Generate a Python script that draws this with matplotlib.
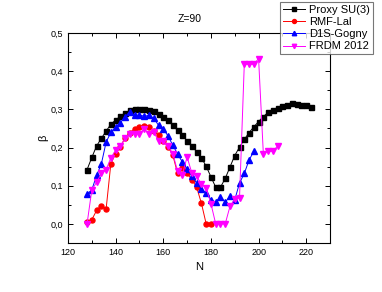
import matplotlib
matplotlib.use("Agg")
import matplotlib.pyplot as plt
from matplotlib.ticker import MultipleLocator, FuncFormatter

plt.rcParams['font.family'] = ['Liberation Sans', 'DejaVu Sans']

N_proxy = list(range(128, 223, 2))
beta_proxy = [0.142, 0.174, 0.204, 0.224, 0.243, 0.261, 0.272, 0.282, 0.291, 0.297,
              0.300, 0.302, 0.300, 0.298, 0.295, 0.287, 0.281, 0.271, 0.258, 0.245,
              0.232, 0.218, 0.204, 0.189, 0.173, 0.151, 0.123, 0.096, 0.096, 0.119,
              0.149, 0.179, 0.201, 0.221, 0.239, 0.254, 0.268, 0.281, 0.292, 0.299,
              0.304, 0.309, 0.312, 0.316, 0.314, 0.312, 0.311, 0.306]

N_rmf = list(range(128, 181, 2))
beta_rmf = [0.004, 0.011, 0.035, 0.048, 0.039, 0.158, 0.184, 0.201, 0.226, 0.239,
            0.249, 0.254, 0.256, 0.253, 0.243, 0.232, 0.218, 0.202, 0.180, 0.132,
            0.146, 0.132, 0.116, 0.096, 0.054, 0.0, 0.0]

N_gogny = list(range(128, 199, 2))
beta_gogny = [0.078, 0.089, 0.127, 0.157, 0.214, 0.240, 0.254, 0.265, 0.281, 0.294,
              0.284, 0.285, 0.282, 0.284, 0.277, 0.258, 0.249, 0.230, 0.206, 0.183,
              0.162, 0.144, 0.125, 0.107, 0.091, 0.081, 0.063, 0.057, 0.070, 0.057,
              0.072, 0.063, 0.107, 0.132, 0.167, 0.190]

N_frdm = list(range(128, 209, 2))
beta_frdm = [0.0, 0.089, 0.109, 0.132, 0.142, 0.173, 0.193, 0.204, 0.225, 0.236,
             0.236, 0.236, 0.249, 0.236, 0.241, 0.217, 0.217, 0.204, 0.184, 0.138,
             0.129, 0.175, 0.133, 0.125, 0.104, 0.094, 0.053, 0.0, 0.0, 0.0,
             0.046, 0.065, 0.068, 0.418, 0.418, 0.418, 0.433, 0.184, 0.190, 0.190,
             0.204]

fig = plt.figure(figsize=(3.82, 2.92), dpi=100)
ax = fig.add_axes([0.178, 0.168, 0.686, 0.719])

ms = 3.6
lw = 0.7
l1, = ax.plot(N_proxy, beta_proxy, color='black', marker='s', ms=ms, lw=lw, label='Proxy SU(3)')
l2, = ax.plot(N_rmf, beta_rmf, color='red', marker='o', ms=ms, lw=lw, label='RMF-Lal')
l3, = ax.plot(N_gogny, beta_gogny, color='blue', marker='^', ms=ms + 0.4, lw=lw, label='D1S-Gogny')
l4, = ax.plot(N_frdm, beta_frdm, color='magenta', marker='v', ms=ms + 0.4, lw=lw, label='FRDM 2012')

ax.set_xlim(120, 230)
ax.set_ylim(-0.05, 0.5)
ax.xaxis.set_major_locator(MultipleLocator(20))
ax.xaxis.set_minor_locator(MultipleLocator(10))
ax.yaxis.set_major_locator(MultipleLocator(0.1))
ax.yaxis.set_minor_locator(MultipleLocator(0.05))
ax.yaxis.set_major_formatter(FuncFormatter(lambda v, p: f"{v:.1f}".replace('.', ',').replace('-0,0', '0,0')))
ax.tick_params(which='both', direction='in', top=True, right=True, labelsize=6.5, width=0.7)
ax.tick_params(which='major', length=3.5)
ax.tick_params(which='minor', length=2)
for s in ax.spines.values():
    s.set_linewidth(0.8)

ax.set_xlabel('N', fontsize=8, labelpad=4)
ax.set_ylabel('β', fontsize=8, labelpad=2)
fig.text(190 / 382, 1 - 19 / 292, 'Z=90', ha='center', va='center', fontsize=7.5)

leg = fig.legend(handles=[l1, l2, l3, l4], loc='upper right',
                 bbox_to_anchor=(373 / 382, 1 - 2 / 292), fontsize=8,
                 frameon=True, fancybox=False, edgecolor='#555555',
                 borderpad=0.25, labelspacing=0.2, handlelength=2.0,
                 handletextpad=0.4, borderaxespad=0, markerscale=0.8)
leg.get_frame().set_linewidth(0.8)

fig.savefig('out.png', dpi=100)
